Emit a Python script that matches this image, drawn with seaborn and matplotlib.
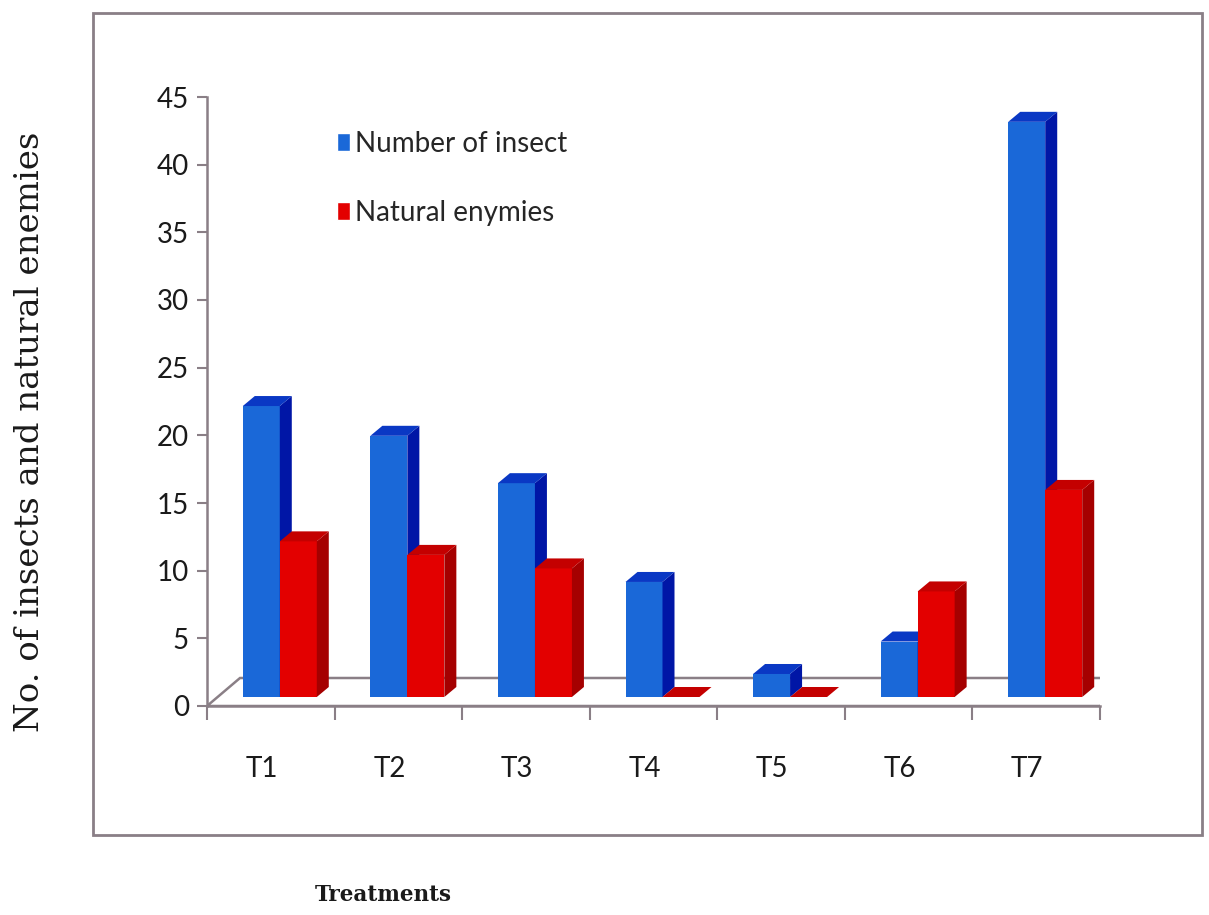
import matplotlib
matplotlib.use("Agg")
import matplotlib.pyplot as plt
from matplotlib.patches import Polygon, Rectangle
from matplotlib.transforms import ScaledTranslation
import seaborn as sns
import pandas as pd

# data
treatments = ["T1", "T2", "T3", "T4", "T5", "T6", "T7"]
insects = [21.5, 19.3, 15.8, 8.5, 1.7, 4.1, 42.5]
enemies = [11.5, 10.5, 9.5, 0.0, 0.0, 7.8, 15.3]
series = ["Number of insect", "Natural enymies"]

df = pd.DataFrame({
    "Treatment": treatments * 2,
    "Count": insects + enemies,
    "Series": [series[0]] * 7 + [series[1]] * 7,
})

sns.set_theme(style="white")
sans = ["Lato", "DejaVu Sans"]
serif = ["DejaVu Serif"]

W, H = 1209, 915
fig = plt.figure(figsize=(W / 100, H / 100), dpi=100)
ax = fig.add_axes([207 / W, 1 - 706 / H, (1100 - 207) / W, (706 - 97) / H])

front = ["#1a68d8", "#e30000"]
side = ["#0016a6", "#a50000"]
top = ["#0a38c4", "#c40000"]
edge = "#8a7f86"

sns.barplot(data=df, x="Treatment", y="Count", hue="Series", palette=front,
            width=0.58, gap=0, saturation=1, ax=ax, legend=True)

# ticks first, then limits (set_xticks may widen the view)
ax.set_yticks(range(0, 46, 5))
ax.set_xticks([i - 0.5 for i in range(8)], minor=True)
ax.set_xticks(range(7))
ax.set_xticklabels(treatments)
ax.set_xlim(-0.5, 6.5)
ax.set_ylim(0, 45)
fig.canvas.draw()

px = 1 / 100
shift = ScaledTranslation(9 * px, 9 * px, fig.dpi_scale_trans)
ddx, ddy = 12, 10  # bar depth, pixels

for k, cont in enumerate(ax.containers):
    for bar in cont:
        bar.set_transform(ax.transData + shift)
        bar.set_zorder(3 + k)
        bar.set_edgecolor("none")
        x0, x1 = bar.get_x(), bar.get_x() + bar.get_width()
        h = bar.get_height()
        (ax0, ay0), (ax1, ay1) = ax.transData.transform([(x0, 0), (x1, h)])
        ax0 += 9; ax1 += 9; ay0 += 9; ay1 += 9
        sp = Polygon([(ax1, ay0), (ax1, ay1), (ax1 + ddx, ay1 + ddy), (ax1 + ddx, ay0 + ddy)],
                     closed=True, transform=None, fc=side[k], ec="none", zorder=3 + k)
        tp = Polygon([(ax0, ay1), (ax1, ay1), (ax1 + ddx, ay1 + ddy), (ax0 + ddx, ay1 + ddy)],
                     closed=True, transform=None, fc=top[k], ec="none", zorder=3 + k)
        ax.add_artist(sp)
        ax.add_artist(tp)

# floor
(fx0, fy0), (fx1, fy1) = ax.transData.transform([(-0.5, 0), (6.5, 0)])
floor = Polygon([(fx0, fy0), (fx1, fy1), (fx1 + 32, fy1 + 28), (fx0 + 33, fy0 + 28)],
                closed=True, transform=None, fc="white", ec=edge, lw=1.8, zorder=1)
ax.add_artist(floor)
for s in ["top", "right"]:
    ax.spines[s].set_visible(False)
for s in ["left", "bottom"]:
    ax.spines[s].set_color(edge)
    ax.spines[s].set_linewidth(1.8)
    ax.spines[s].set_zorder(2)

ax.tick_params(axis="y", direction="out", length=7, width=1.5, color=edge,
               labelsize=20, labelcolor="#1a1a1a", pad=6, left=True)
ax.tick_params(axis="x", which="major", length=0, labelsize=20, labelcolor="#1a1a1a", pad=36)
ax.tick_params(axis="x", which="minor", direction="out", length=10, width=1.5,
               color=edge, bottom=True)
for lbl in ax.get_xticklabels() + ax.get_yticklabels():
    lbl.set_fontfamily(sans)
for t in ax.xaxis.get_major_ticks():
    t.label1.set_transform(t.label1.get_transform() +
                           ScaledTranslation(-9 * px, 0, fig.dpi_scale_trans))
ax.set_xlabel("")
ax.set_ylabel("")

handles, labels = ax.get_legend_handles_labels()
ax.legend(handles, labels, loc="upper left", bbox_to_anchor=(312 / W, 1 - 106 / H),
          bbox_transform=fig.transFigure, frameon=False, handlelength=0.45,
          handleheight=0.6, handletextpad=0.2, labelspacing=1.55,
          prop={"family": sans, "size": 20})

fig.text(30 / W, 1 - 432 / H, "No. of insects and natural enemies", rotation=90,
         ha="center", va="center", family=serif, fontsize=24.5, color="#1a1a1a")
fig.text(383 / W, 1 - 895 / H, "Treatments", ha="center", va="center",
         family=serif, fontsize=15.5, fontweight="bold", color="#1a1a1a")

fig.add_artist(Rectangle((93 / W, 1 - 835 / H), (1202 - 93) / W, (835 - 13) / H,
                         transform=fig.transFigure, fill=False, ec=edge, lw=2))

fig.savefig("out.png", dpi=100)
